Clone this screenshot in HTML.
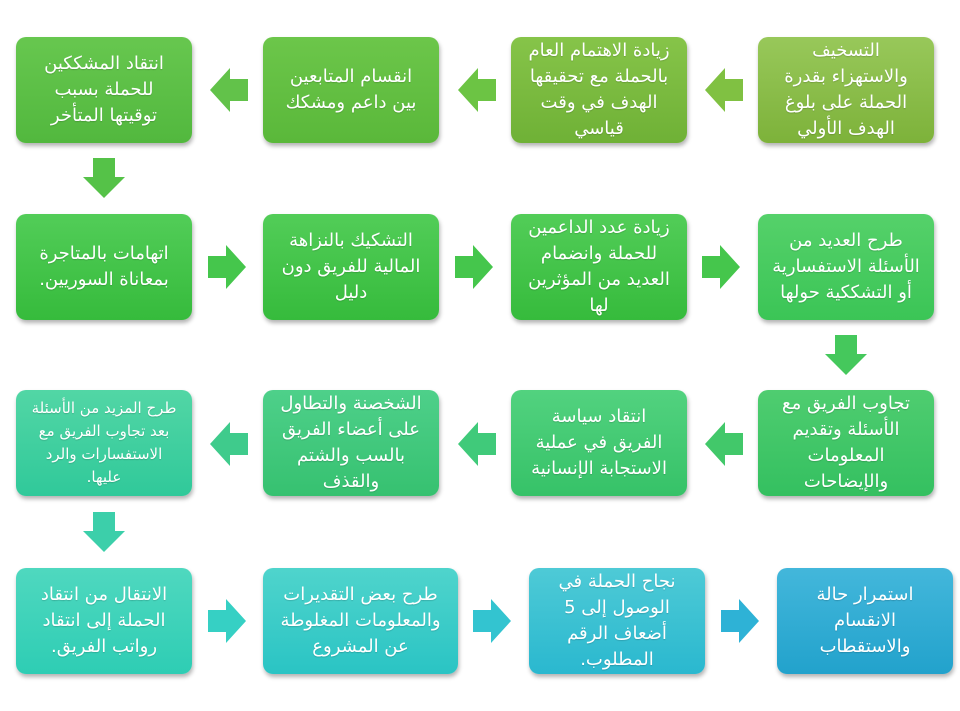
<!DOCTYPE html>
<html><head><meta charset="utf-8"><style>
body{margin:0;width:960px;height:711px;background:#fff;position:relative;overflow:hidden;font-family:"DejaVu Sans","Noto Sans CJK SC",sans-serif}
.b{position:absolute;width:176px;height:106px;border-radius:10px;box-shadow:1px 3px 4px rgba(0,0,0,.3);display:flex;align-items:center;justify-content:center;text-align:center;direction:rtl;color:#fff;font-size:18px;line-height:26px;text-shadow:0 1px 1px rgba(0,0,0,.15);padding:0 2px;box-sizing:border-box;white-space:nowrap;letter-spacing:-0.3px}
svg{position:absolute}
</style></head><body>
<!-- Row1 -->
<div class="b" style="left:16px;top:37px;background:linear-gradient(#67c74f,#52b83e)">انتقاد المشككين<br>للحملة بسبب<br>توقيتها المتأخر</div>
<div class="b" style="left:263px;top:37px;background:linear-gradient(#6cc64a,#5ab83a)">انقسام المتابعين<br>بين داعم ومشكك</div>
<div class="b" style="left:511px;top:37px;background:linear-gradient(#86c449,#6fb136)">زيادة الاهتمام العام<br>بالحملة مع تحقيقها<br>الهدف في وقت<br>قياسي</div>
<div class="b" style="left:758px;top:37px;background:linear-gradient(#98c85a,#7db23a)">التسخيف<br>والاستهزاء بقدرة<br>الحملة على بلوغ<br>الهدف الأولي</div>
<!-- Row2 -->
<div class="b" style="left:16px;top:214px;background:linear-gradient(#52cd58,#36bb3c)">اتهامات بالمتاجرة<br>بمعاناة السوريين.</div>
<div class="b" style="left:263px;top:214px;background:linear-gradient(#52cd58,#36bb3c)">التشكيك بالنزاهة<br>المالية للفريق دون<br>دليل</div>
<div class="b" style="left:511px;top:214px;background:linear-gradient(#52cd58,#36bb3c)">زيادة عدد الداعمين<br>للحملة وانضمام<br>العديد من المؤثرين<br>لها</div>
<div class="b" style="left:758px;top:214px;background:linear-gradient(#55d16a,#3bc556)">طرح العديد من<br>الأسئلة الاستفسارية<br>أو التشككية حولها</div>
<!-- Row3 -->
<div class="b" style="left:16px;top:390px;background:linear-gradient(#52d6a5,#30c99a);font-size:15px;line-height:23px">طرح المزيد من الأسئلة<br>بعد تجاوب الفريق مع<br>الاستفسارات والرد<br>عليها.</div>
<div class="b" style="left:263px;top:390px;background:linear-gradient(#4ed08a,#36c170)">الشخصنة والتطاول<br>على أعضاء الفريق<br>بالسب والشتم<br>والقذف</div>
<div class="b" style="left:511px;top:390px;background:linear-gradient(#52d27f,#36c268)">انتقاد سياسة<br>الفريق في عملية<br>الاستجابة الإنسانية</div>
<div class="b" style="left:758px;top:390px;background:linear-gradient(#4fcd70,#34c060)">تجاوب الفريق مع<br>الأسئلة وتقديم<br>المعلومات<br>والإيضاحات</div>
<!-- Row4 -->
<div class="b" style="left:16px;top:568px;background:linear-gradient(#4fd8bf,#2ecdb4)">الانتقال من انتقاد<br>الحملة إلى انتقاد<br>رواتب الفريق.</div>
<div class="b" style="left:263px;top:568px;width:195px;background:linear-gradient(#4fd4cc,#2ac4c4)">طرح بعض التقديرات<br>والمعلومات المغلوطة<br>عن المشروع</div>
<div class="b" style="left:529px;top:568px;background:linear-gradient(#4ecad6,#2ab8cf)">نجاح الحملة في<br>الوصول إلى 5<br>أضعاف الرقم<br>المطلوب.</div>
<div class="b" style="left:777px;top:568px;background:linear-gradient(#43b7db,#22a2cc)">استمرار حالة<br>الانقسام<br>والاستقطاب</div>

<svg style="left:210px;top:68px" width="38" height="44"><polygon points="0,22 20,0 20,11 38,11 38,33 20,33 20,44" fill="#62c24a"/></svg>
<svg style="left:458px;top:68px" width="38" height="44"><polygon points="0,22 20,0 20,11 38,11 38,33 20,33 20,44" fill="#6cc444"/></svg>
<svg style="left:705px;top:68px" width="38" height="44"><polygon points="0,22 20,0 20,11 38,11 38,33 20,33 20,44" fill="#80c142"/></svg>
<svg style="left:208px;top:245px" width="38" height="44"><polygon points="38,22 18,0 18,11 0,11 0,33 18,33 18,44" fill="#45c64c"/></svg>
<svg style="left:455px;top:245px" width="38" height="44"><polygon points="38,22 18,0 18,11 0,11 0,33 18,33 18,44" fill="#45c64c"/></svg>
<svg style="left:702px;top:245px" width="38" height="44"><polygon points="38,22 18,0 18,11 0,11 0,33 18,33 18,44" fill="#45c64c"/></svg>
<svg style="left:210px;top:422px" width="38" height="44"><polygon points="0,22 20,0 20,11 38,11 38,33 20,33 20,44" fill="#3fcb8c"/></svg>
<svg style="left:458px;top:422px" width="38" height="44"><polygon points="0,22 20,0 20,11 38,11 38,33 20,33 20,44" fill="#40ca7a"/></svg>
<svg style="left:705px;top:422px" width="38" height="44"><polygon points="0,22 20,0 20,11 38,11 38,33 20,33 20,44" fill="#42c86a"/></svg>
<svg style="left:208px;top:599px" width="38" height="44"><polygon points="38,22 18,0 18,11 0,11 0,33 18,33 18,44" fill="#36d0c4"/></svg>
<svg style="left:473px;top:599px" width="38" height="44"><polygon points="38,22 18,0 18,11 0,11 0,33 18,33 18,44" fill="#33c4d0"/></svg>
<svg style="left:721px;top:599px" width="38" height="44"><polygon points="38,22 18,0 18,11 0,11 0,33 18,33 18,44" fill="#2eb2d6"/></svg>
<svg style="left:83px;top:158px" width="42" height="40"><polygon points="10,0 32,0 32,19 42,19 21,40 0,19 10,19" fill="#55c248"/></svg>
<svg style="left:825px;top:335px" width="42" height="40"><polygon points="10,0 32,0 32,19 42,19 21,40 0,19 10,19" fill="#45c85c"/></svg>
<svg style="left:83px;top:512px" width="42" height="40"><polygon points="10,0 32,0 32,19 42,19 21,40 0,19 10,19" fill="#3ccfaa"/></svg>
</body></html>
